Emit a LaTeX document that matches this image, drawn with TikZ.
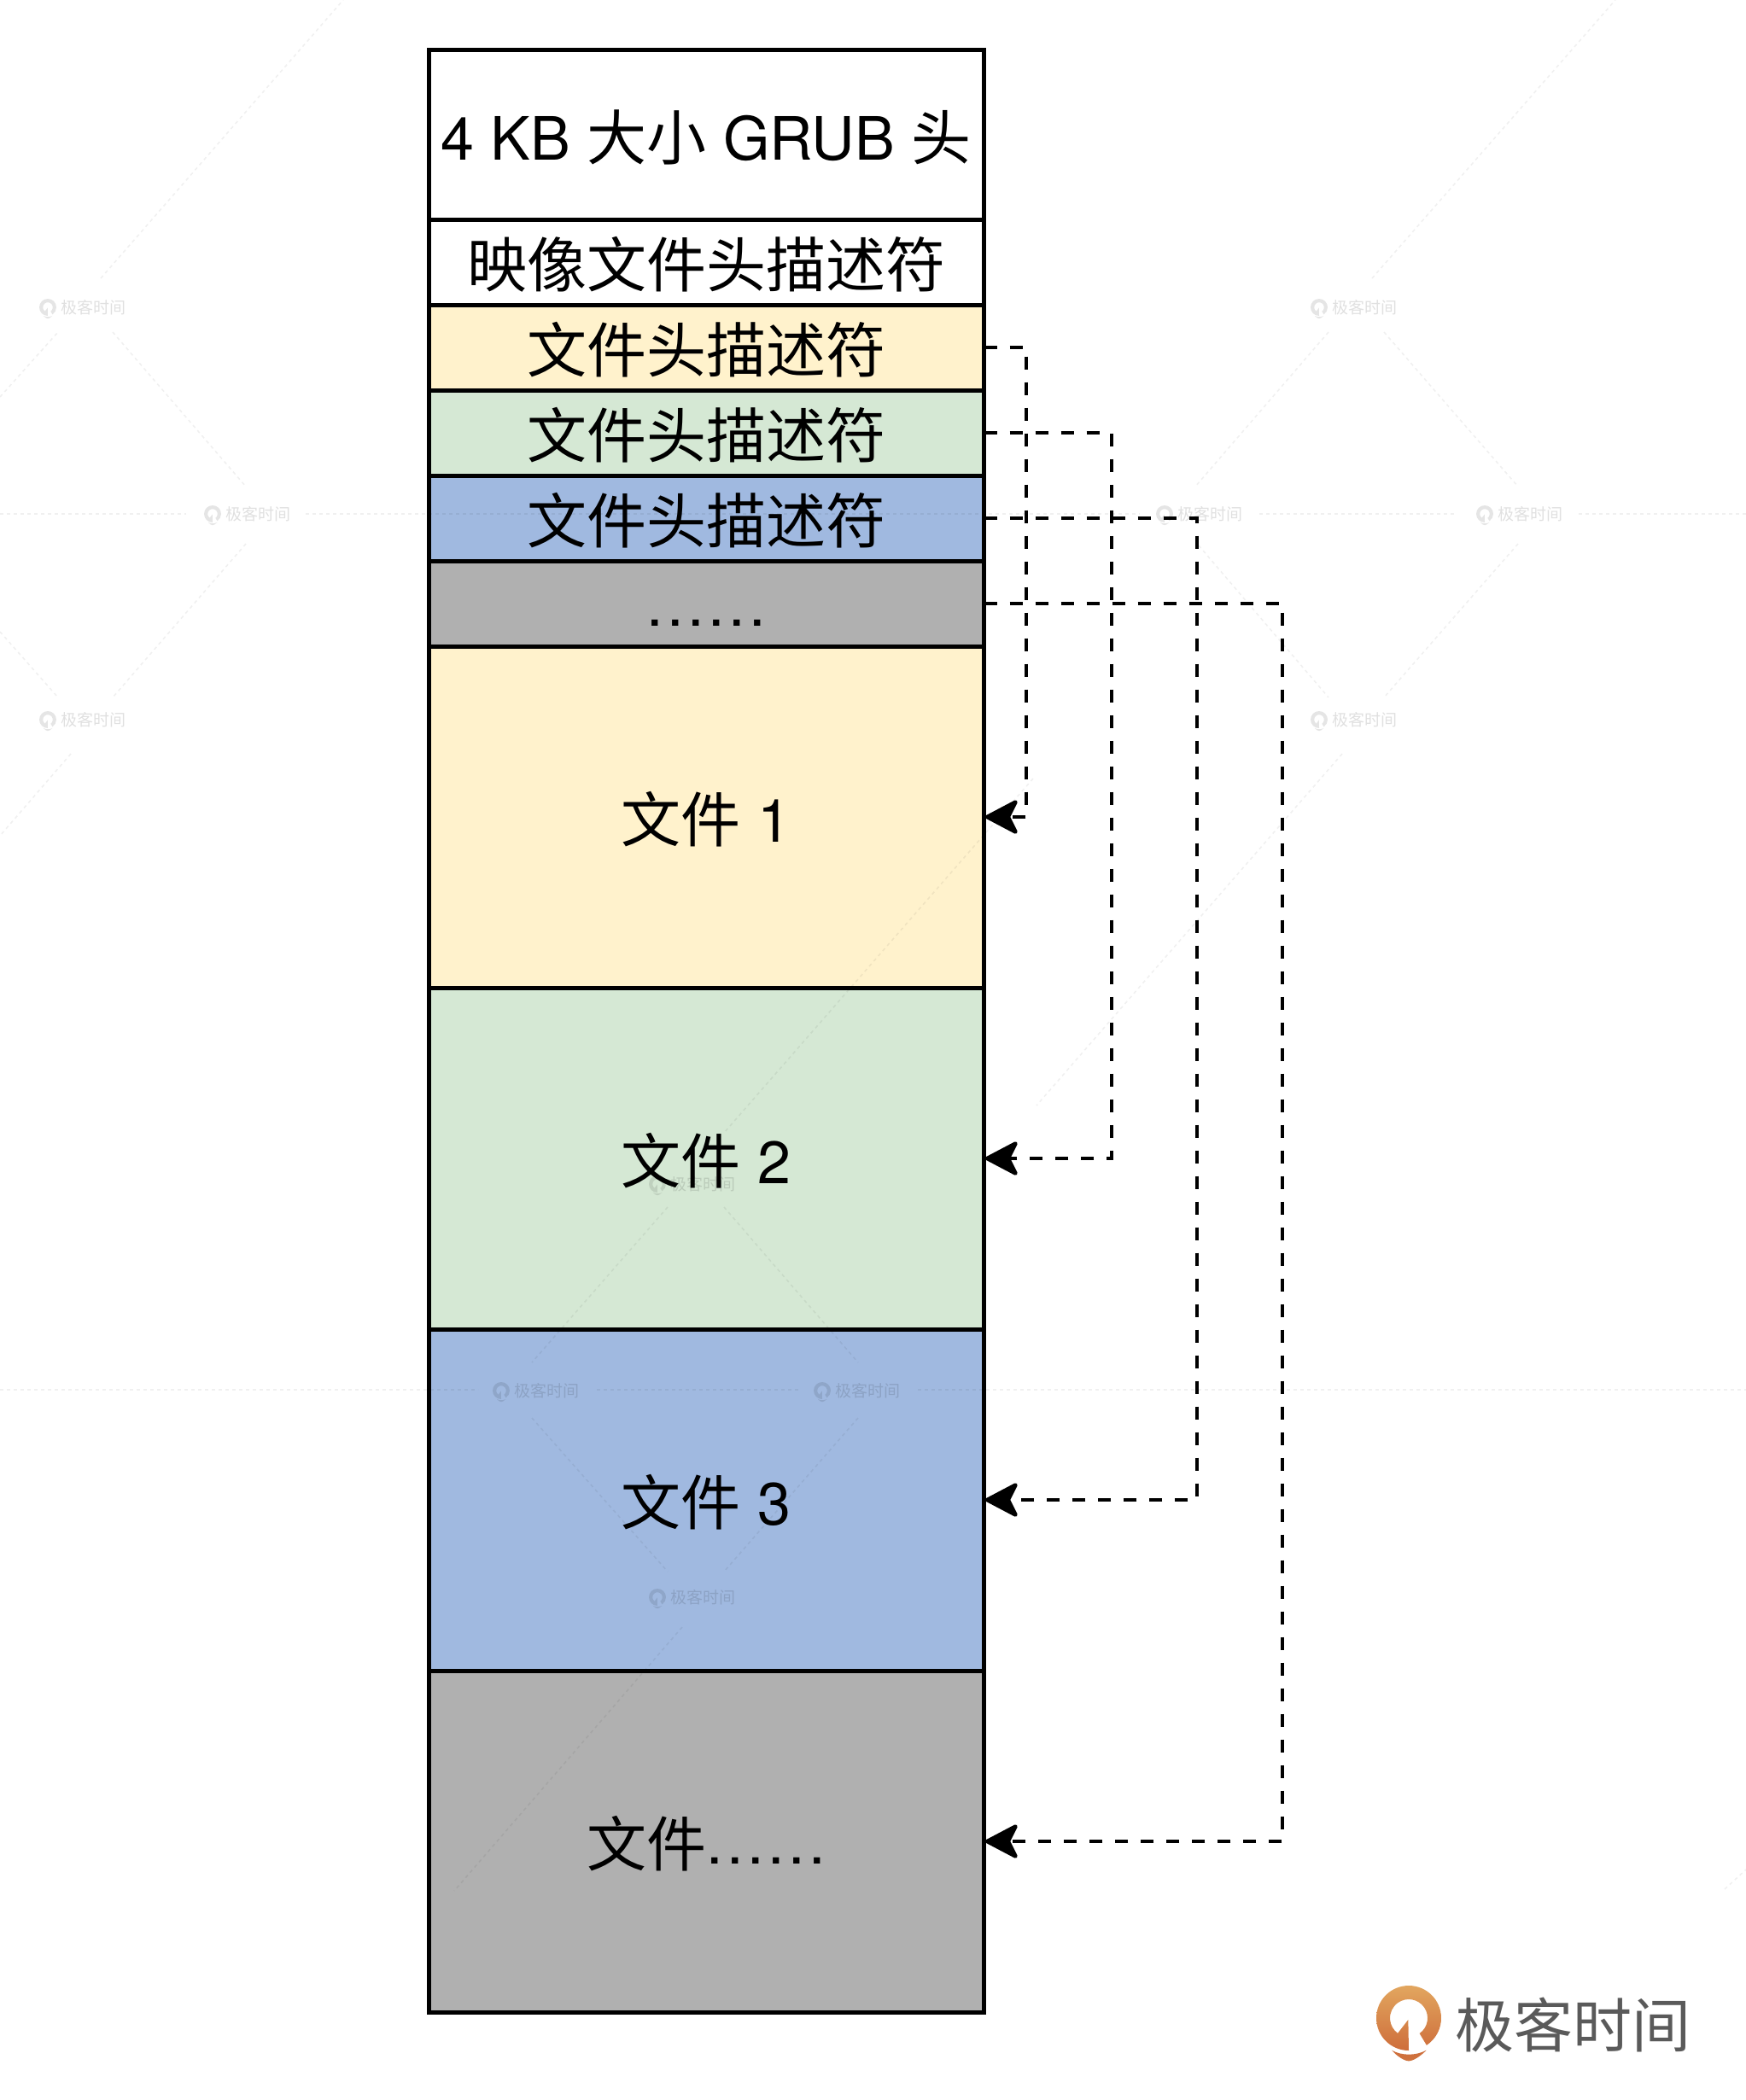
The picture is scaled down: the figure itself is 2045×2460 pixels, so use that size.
\documentclass[tikz,border=0pt]{standalone}
\usepackage{fontspec}
\setmainfont{Noto Sans CJK SC}
\newfontfamily\latinfont{TeX Gyre Heros}
\usetikzlibrary{arrows.meta}
\definecolor{fileyellow}{HTML}{FFF2CC}
\definecolor{filegreen}{HTML}{D5E8D4}
\definecolor{fileblue}{HTML}{A0B9E0}
\definecolor{filegrey}{HTML}{B0B0B0}
\definecolor{logotop}{HTML}{E2A65F}
\definecolor{logobot}{HTML}{CE6E3B}
\definecolor{logotext}{HTML}{5A5A5A}
\newcommand{\ringpath}{(0,-114) arc (-90:-416.7:114) -- (-55:66) arc (-55:234:66) -- (-2,-6) -- cycle}
\newcommand{\crescentpath}{(-60,-113) .. controls (-25,-133) and (25,-133) .. (62,-113) .. controls (40,-135) and (15,-151) .. (0,-151) .. controls (-15,-151) and (-40,-135) .. cycle}
\newcommand{\sixdots}{\raisebox{3pt}{\latinfont .\kern4.5pt.\kern4.5pt.\kern4.5pt.\kern4.5pt.\kern4.5pt.}}
\tikzset{
  cellbox/.style={draw=black,line width=5pt,rectangle,inner sep=0pt,outer sep=2pt,
    minimum width=650pt,text=black,font=\fontsize{70}{70}\selectfont,
    text height=68pt,text depth=9pt,align=center},
  conn/.style={line width=4.6pt,dash pattern=on 15pt off 15pt,dash phase=1.3pt,
    -{Stealth[length=43pt,width=45pt,inset=11pt,round=false]}},
  wmark/.style={text=black,text opacity=.12,inner sep=0pt,font=\fontsize{19}{19}\selectfont},
  wline/.style={draw=black,draw opacity=.06,line width=1.6pt,dash pattern=on 4pt off 4pt},
  brand/.style={text=logotext,inner sep=0pt,font=\fontsize{69}{69}\selectfont},
}
\newcommand{\wm}[3]{%
  \begin{scope}[shift={(#2-41,#3)},x=.0877pt,y=.0877pt]
    \fill[black,opacity=.10] \ringpath;
    \fill[black,opacity=.10] \crescentpath;
  \end{scope}
  \node[wmark] (wm#1) at (#2+12,#3) {极客时间};
}
\begin{document}
\begin{tikzpicture}[x=1pt,y=-1pt]
\useasboundingbox (0,0) rectangle (2045,2460);
\fill[white] (0,0) rectangle (2045,2460);
% stack of cells
\node[cellbox,minimum height=199pt,fill=white] (grub) at (827,157.5) {{\latinfont 4 KB }大小{\latinfont\ GRUB }头};
\node[cellbox,minimum height=100pt,fill=white] (img) at (827,307) {映像文件头描述符};
\node[cellbox,minimum height=100pt,fill=fileyellow] (d1) at (827,407) {文件头描述符};
\node[cellbox,minimum height=100pt,fill=filegreen] (d2) at (827,507) {文件头描述符};
\node[cellbox,minimum height=100pt,fill=fileblue] (d3) at (827,607) {文件头描述符};
\node[cellbox,minimum height=100pt,fill=filegrey] (d4) at (827,707) {\sixdots};
\node[cellbox,minimum height=400pt,fill=fileyellow] (f1) at (827,957) {文件{\latinfont\ 1}};
\node[cellbox,minimum height=400pt,fill=filegreen] (f2) at (827,1357) {文件{\latinfont\ 2}};
\node[cellbox,minimum height=400pt,fill=fileblue] (f3) at (827,1757) {文件{\latinfont\ 3}};
\node[cellbox,minimum height=400pt,fill=filegrey] (f4) at (827,2157) {文件\sixdots};
% connectors
\coordinate (k1) at (1202,407);
\coordinate (k2) at (1302,507);
\coordinate (k3) at (1402,607);
\coordinate (k4) at (1502,707);
\draw[conn] (d1.east) -- (k1) |- (f1.east);
\draw[conn] (d2.east) -- (k2) |- (f2.east);
\draw[conn] (d3.east) -- (k3) |- (f3.east);
\draw[conn] (d4.east) -- (k4) |- (f4.east);
% faint background marks
\wm{a}{97}{360}
\wm{b}{1586}{360}
\wm{c}{290}{602}
\wm{d}{1405}{602}
\wm{e}{1780}{602}
\wm{f}{97}{843}
\wm{g}{1586}{843}
\wm{h}{811}{1387}
\wm{i}{628}{1629}
\wm{j}{1004}{1629}
\wm{k}{811}{1871}
\draw[wline] (0,602) -- (218,602);
\draw[wline] (358,602) -- (1335,602);
\draw[wline] (1475,602) -- (1706,602);
\draw[wline] (1849,602) -- (2045,602);
\draw[wline] (0,1628) -- (560,1628);
\draw[wline] (699,1628) -- (935,1628);
\draw[wline] (1075,1628) -- (2045,1628);
\draw[wline] (118,326) -- (402,0);
\draw[wline] (0,465) -- (68,389);
\draw[wline] (132,389) -- (288,570);
\draw[wline] (288,637) -- (132,817);
\draw[wline] (0,740) -- (68,817);
\draw[wline] (83,883) -- (0,979);
\draw[wline] (1607,326) -- (1892,0);
\draw[wline] (1556,389) -- (1400,570);
\draw[wline] (1621,389) -- (1778,570);
\draw[wline] (1404,639) -- (1556,817);
\draw[wline] (1778,637) -- (1621,817);
\draw[wline] (1572,883) -- (1214,1295);
\draw[wline] (1210,912) -- (848,1327);
\draw[wline] (782,1414) -- (623,1596);
\draw[wline] (848,1414) -- (1005,1596);
\draw[wline] (623,1661) -- (782,1841);
\draw[wline] (1005,1661) -- (848,1841);
\draw[wline] (799,1906) -- (532,2215);
\draw[wline] (2020,2213) -- (2045,2190);
% brand logo
\begin{scope}[shift={(1650,2364)},x=.3333pt,y=.3333pt]
  \shade[top color=logotop,bottom color=logobot] \ringpath;
  \shade[top color=logobot,bottom color=logobot!90!logotop] \crescentpath;
\end{scope}
\node[brand] (brandname) at (1842,2372) {极客时间};
\end{tikzpicture}
\end{document}
